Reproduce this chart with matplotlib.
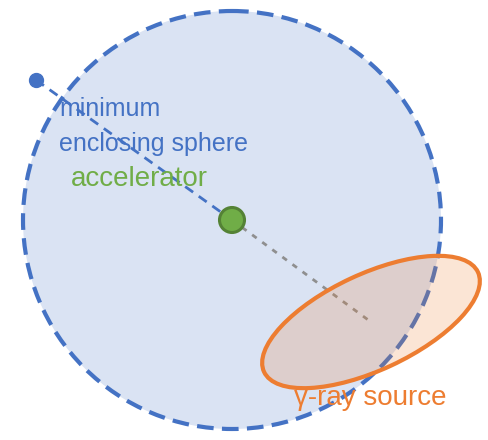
import matplotlib.pyplot as plt
from matplotlib.patches import Circle, Ellipse

plt.rcParams["font.family"] = ["Liberation Sans", "DejaVu Sans"]

# geometry of the sketch, in pixel units of a 488x440 canvas (y downwards)
sphere_center = (232, 220)
sphere_radius = 209
far_point = (36, 80)
accel_center = (232, 220)
accel_radius = 12.5
source_center = (371, 322)
source_width = 236
source_height = 96
source_angle = 25

labels_sphere = ["minimum", "enclosing sphere"]
label_accel = "accelerator"
label_source = "γ-ray source"

blue = "#4472c4"
green = "#70ad47"
orange = "#ed7d31"

fig = plt.figure(figsize=(4.88, 4.40), dpi=100)
ax = fig.add_axes([0, 0, 1, 1])
ax.set_xlim(0, 488)
ax.set_ylim(440, 0)
ax.set_aspect("equal")
ax.axis("off")

# minimum enclosing sphere
ax.add_patch(Circle(sphere_center, sphere_radius, facecolor="#dae3f3",
                    edgecolor="none", zorder=1))
ax.add_patch(Circle(sphere_center, sphere_radius, facecolor="none",
                    edgecolor=blue, linewidth=3, linestyle=(0, (4.0, 2.0)),
                    zorder=2))

# radius line from the far point to the accelerator
ax.plot([far_point[0], accel_center[0]], [far_point[1], accel_center[1]],
        color=blue, linewidth=2, linestyle=(0, (3.5, 2.5)), zorder=3)
ax.plot(*far_point, "o", color=blue, markersize=10, zorder=3)

# accelerator to source centre
ax.plot([accel_center[0], source_center[0]], [accel_center[1], source_center[1]],
        color="#8f8f8f", linewidth=2, linestyle=(0, (2, 2.5)), zorder=3)

ax.add_patch(Circle(accel_center, accel_radius, facecolor=green,
                    edgecolor="#548235", linewidth=2.2, zorder=4))

# gamma-ray source
ax.add_patch(Ellipse(source_center, source_width, source_height, angle=-source_angle,
                     facecolor=orange, alpha=0.2, edgecolor="none", zorder=5))
ax.add_patch(Ellipse(source_center, source_width, source_height, angle=-source_angle,
                     facecolor="none", edgecolor=orange, linewidth=3, zorder=6))

for i, line in enumerate(labels_sphere):
    ax.text(59, 116 + 35 * i, line, color=blue, fontsize=18,
            ha="left", va="baseline", zorder=7)
ax.text(71, 186, label_accel, color=green, fontsize=20,
        ha="left", va="baseline", zorder=7)
ax.text(294, 405, label_source, color=orange, fontsize=20,
        ha="left", va="baseline", zorder=7)

fig.savefig("out.png", dpi=100)
